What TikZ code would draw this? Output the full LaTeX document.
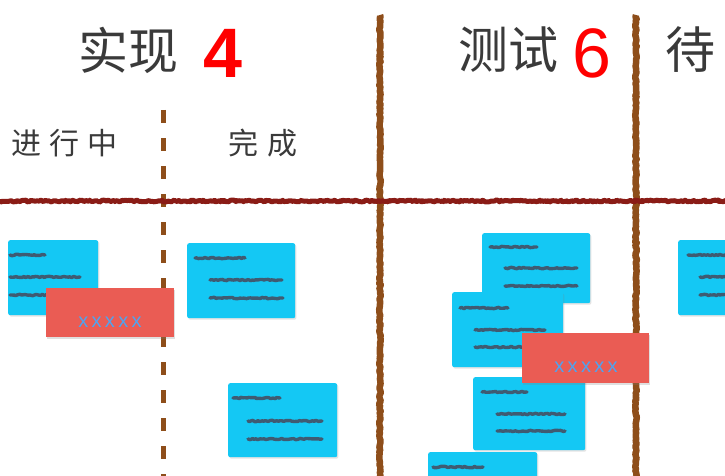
\documentclass[tikz,border=0pt]{standalone}
\usepackage{fontspec}
\setmainfont{Liberation Sans}
\newfontfamily\cjk{Noto Sans CJK SC}
\usetikzlibrary{decorations.pathmorphing,shadows}
\definecolor{notecyan}{HTML}{14C8F4}
\definecolor{flagred}{HTML}{EA5C54}
\definecolor{xblue}{HTML}{4FA3F0}
\definecolor{lanebrown}{HTML}{8E4E1A}
\definecolor{rulered}{HTML}{8A1C16}
\definecolor{inkgray}{HTML}{3A3A3A}
\definecolor{scribcol}{HTML}{4A4052}
\tikzset{
  stickybox/.style={fill=notecyan, draw=none, rounded corners=2pt, anchor=north west,
    inner sep=0pt, drop shadow={opacity=0.22, shadow xshift=1.2pt, shadow yshift=-1.5pt}},
  flagbox/.style={fill=flagred, draw=none, anchor=north west, inner sep=0pt,
    drop shadow={opacity=0.25, shadow xshift=1.2pt, shadow yshift=-1.5pt}},
  scribble/.style={draw=scribcol, opacity=0.8, line width=3.4pt, line cap=round, line join=round,
    decorate, decoration={random steps, segment length=2pt, amplitude=0.7pt}},
  titletext/.style={font=\cjk\fontsize{50}{50}\selectfont, text=inkgray, inner sep=0pt, anchor=west},
  numtext/.style={font=\fontsize{70}{70}\selectfont, text=red, inner sep=0pt, anchor=west},
  subtext/.style={font=\cjk\fontsize{30}{30}\selectfont, text=inkgray, inner sep=0pt, anchor=west},
  xtext/.style={font=\fontsize{20}{20}\selectfont, text=xblue, inner sep=0pt},
  solidlane/.style={draw=lanebrown, line width=6.5pt, line join=round,
    decorate, decoration={random steps, segment length=2pt, amplitude=0.8pt}},
  dashlane/.style={draw=lanebrown, line width=5pt, dash pattern=on 13pt off 15pt},
  hrule/.style={draw=rulered, line width=5pt, line join=round,
    decorate, decoration={random steps, segment length=1.5pt, amplitude=0.9pt}},
}
\newcommand\scrib[3]{\draw[scribble] (#1,#2) -- (#3,#2);}
\begin{document}
\begin{tikzpicture}[x=1pt,y=-1pt]
\useasboundingbox (0,0) rectangle (725,476);
\clip (0,0) rectangle (725,476);
\fill[white] (0,0) rectangle (725,476);

% headings
\node[titletext] (impl) at (78,50) {实现};
\node[numtext] (implnum) at (203,53) {\textbf{4}};
\node[titletext] (test) at (458,50) {测试};
\node[numtext] (testnum) at (572,53) {6};
\node[titletext] (wait) at (665,50) {待};
\node[subtext] (doing) at (11,143) {进\hspace{8pt}行\hspace{8pt}中};
\node[subtext] (done) at (228,143) {完\hspace{9pt}成};

% lane lines
\coordinate (d1) at (163,110); \coordinate (d2) at (163,476);
\draw[dashlane] (d1) -- (d2);
\coordinate (s1t) at (380,15); \coordinate (s1b) at (380,480);
\draw[solidlane] (s1t) -- (s1b);
\coordinate (s2t) at (636,15); \coordinate (s2b) at (636,480);
\draw[solidlane] (s2t) -- (s2b);
\coordinate (hl) at (-5,201); \coordinate (hr) at (730,201);
\draw[hrule] (hl) -- (hr);

% sticky notes
\node[stickybox, minimum width=90pt, minimum height=75pt] (n1) at (8,240) {};
\scrib{10}{255}{45}\scrib{10}{277}{80}\scrib{10}{295}{50}
\node[stickybox, minimum width=108pt, minimum height=75pt] (n2) at (187,243) {};
\scrib{195}{258}{245}\scrib{210}{280}{282}\scrib{210}{298}{283}
\node[stickybox, minimum width=109pt, minimum height=74pt] (n3) at (228,383) {};
\scrib{233}{398}{280}\scrib{248}{421}{322}\scrib{248}{439}{322}
\node[stickybox, minimum width=108pt, minimum height=70pt] (na) at (482,233) {};
\scrib{490}{247}{537}\scrib{505}{268}{577}\scrib{505}{286}{577}
\node[stickybox, minimum width=111pt, minimum height=75pt] (nb) at (452,292) {};
\scrib{460}{308}{508}\scrib{475}{330}{545}\scrib{475}{347}{530}
\node[stickybox, minimum width=112pt, minimum height=73pt] (nc) at (473,377) {};
\scrib{482}{392}{527}\scrib{497}{414}{565}\scrib{497}{431}{565}
\node[stickybox, minimum width=109pt, minimum height=40pt] (nd) at (428,452) {};
\scrib{433}{467}{483}
\node[stickybox, minimum width=60pt, minimum height=75pt] (ne) at (678,240) {};
\scrib{688}{255}{730}\scrib{700}{277}{730}\scrib{700}{295}{730}

% red flags
\node[flagbox, minimum width=128pt, minimum height=49pt] (r1) at (46,288) {};
\node[xtext] (r1t) at (110,322) {x\,x\,x\,x\,x};
\node[flagbox, minimum width=127pt, minimum height=50pt] (r2) at (522,333) {};
\node[xtext] (r2t) at (586,367) {x\,x\,x\,x\,x};
\end{tikzpicture}
\end{document}
